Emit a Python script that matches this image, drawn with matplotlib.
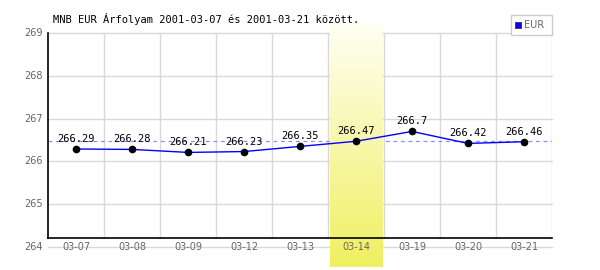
import numpy as np
import matplotlib
matplotlib.use("Agg")
import matplotlib.pyplot as plt
from matplotlib.patches import Rectangle

# MNB EUR rates, 2001-03-07 .. 2001-03-21
dates = ['03-07', '03-08', '03-09', '03-12', '03-13', '03-14', '03-19', '03-20', '03-21']
rates = [266.29, 266.28, 266.21, 266.23, 266.35, 266.47, 266.7, 266.42, 266.46]
yticks = [264, 265, 266, 267, 268, 269]
highlight = 5          # 03-14
ref_level = 266.47     # dashed reference line

grey = '#666666'
gridc = '#d9d9d9'

fig = plt.figure(figsize=(6, 2.7), dpi=100)
ax = fig.add_axes([48 / 600, 23 / 270, 504 / 600, 214 / 270])
x = np.arange(len(dates))
ax.set_xlim(-0.5, len(dates) - 0.5)
ax.set_ylim(264, 269)
for s in ax.spines.values():
    s.set_visible(False)
ax.set_xticks([])
ax.set_yticks([])

# highlighted column with vertical gradient (covers grid + dashed line)
grad = np.linspace(0, 1, 100).reshape(-1, 1)
top = np.array([1.0, 1.0, 0.96])
bot = np.array([0.94, 0.94, 0.38])
img = top + (bot - top) * grad[..., None]
ax.imshow(img, extent=[highlight - 0.47, highlight + 0.47, 263.53, 269.26],
          aspect='auto', origin='upper', clip_on=False, zorder=2.5)

# grid
for yv in yticks:
    ax.plot([-0.5, len(dates) - 0.5], [yv, yv], color=gridc, lw=1, zorder=1, clip_on=False)
for i in range(len(dates)):
    ax.plot([i + 0.5, i + 0.5], [264.21, 269], color=gridc, lw=1, zorder=1)

# axes lines
ax.plot([-0.5, -0.5], [264.21, 269], color='black', lw=1.2, zorder=3, clip_on=False)
ax.plot([-0.5, len(dates) - 0.5], [264.21, 264.21], color='black', lw=1.2, zorder=3, clip_on=False)

ax.axhline(ref_level, color='#8c8cff', lw=0.9, ls=(0, (3, 3)), zorder=2)

ax.plot(x, rates, color='#0000ff', lw=1, zorder=4)
ax.plot(x, rates, 'o', color='black', ms=4.5, zorder=5)

for xi, v in zip(x, rates):
    ax.annotate(f'{v:g}', (xi, v), xytext=(0, 10), textcoords='offset pixels',
                ha='center', va='center', fontsize=7.5, family='DejaVu Sans Mono',
                color='black', zorder=6)

for yv in yticks:
    ax.text(-0.5 - 0.1, yv, str(yv), ha='right', va='center', fontsize=7, color=grey)
for xi, d in zip(x, dates):
    ax.text(xi, 264, d, ha='center', va='center', fontsize=7, color=grey, zorder=6)

fig.text(53 / 600, 1 - 19 / 270, 'MNB EUR Árfolyam 2001-03-07 és 2001-03-21 között.',
         ha='left', va='center', fontsize=7.5, family='DejaVu Sans Mono', color='black')

# legend box
fig.patches.append(Rectangle((511 / 600, 1 - 35 / 270), 41 / 600, 20 / 270,
                             transform=fig.transFigure, facecolor='white',
                             edgecolor='#cccccc', lw=1, zorder=10))
fig.patches.append(Rectangle((515 / 600, 1 - 28 / 270), 6 / 600, 6 / 270,
                             transform=fig.transFigure, facecolor='#0000ff',
                             edgecolor='#333333', lw=0.6, zorder=11))
fig.text(524 / 600, 1 - 25.5 / 270, 'EUR', ha='left', va='center', fontsize=7,
         color=grey, zorder=12)

fig.savefig('out.png', dpi=100)
